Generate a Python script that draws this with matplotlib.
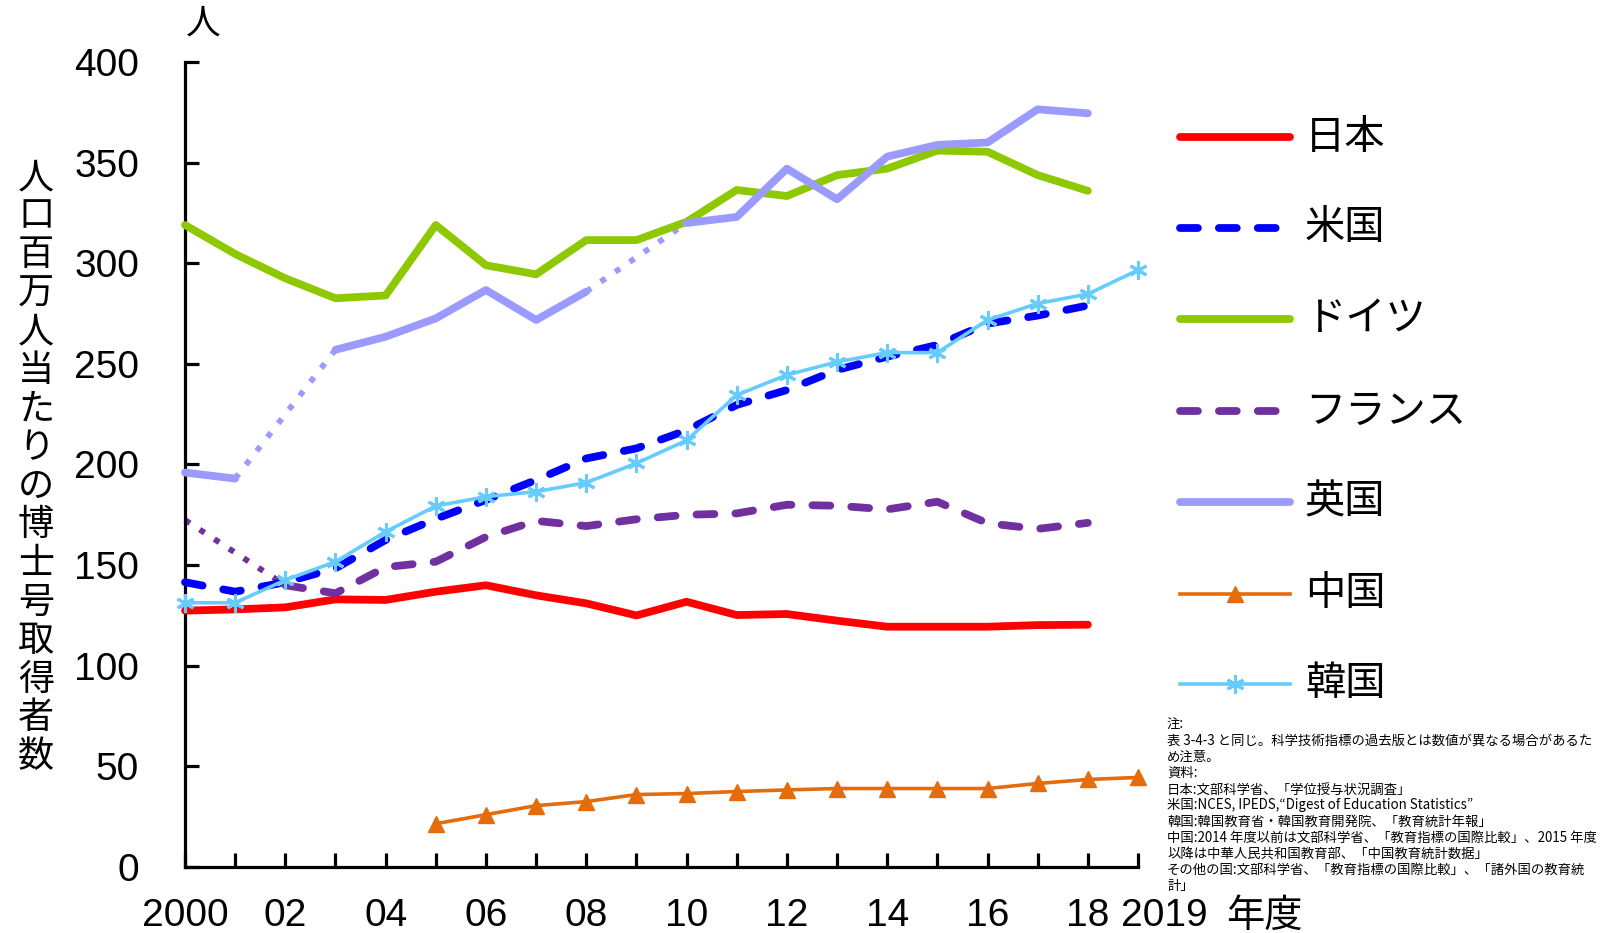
import numpy as np
import matplotlib
matplotlib.use("Agg")
import matplotlib.pyplot as plt
from matplotlib.lines import Line2D

plt.rcParams['font.family'] = ['Liberation Sans', 'Noto Sans CJK JP']

nan = np.nan

# ---- data: doctoral degrees per million population ----
years = list(range(2000, 2020))
years_main = years[:19]            # 2000 .. 2018
years_china = list(range(2005, 2020))

japan = [127.4, 128.0, 129.0, 133.0, 132.7, 136.8, 140.0, 135.0, 131.0, 125.0,
         131.8, 125.2, 125.7, 122.4, 119.4, 119.4, 119.4, 120.2, 120.4]
usa = [141.5, 136.8, 141.5, 148.4, 162.5, 173.0, 182.4, 192.3, 203.0, 208.0,
       217.0, 229.6, 237.0, 247.0, 253.6, 259.4, 270.0, 274.0, 279.0]
germany = [319.0, 304.6, 292.5, 282.6, 284.0, 319.0, 299.0, 294.5, 311.5, 311.5,
           320.6, 336.4, 333.4, 343.8, 347.0, 356.0, 355.4, 343.8, 336.0]
france = [172.4, nan, 140.0, 136.0, 149.0, 151.7, 164.0, 172.0, 169.4, 172.8,
          175.0, 175.7, 180.0, 179.5, 177.7, 181.5, 170.8, 168.0, 171.0]
uk = [196.0, 193.0, nan, 257.0, 263.5, 272.6, 286.7, 271.8, 285.9, nan,
      320.0, 323.0, 347.0, 331.8, 353.0, 358.8, 360.0, 376.5, 374.5]
china = [21.5, 26.0, 30.5, 32.5, 36.0, 36.5, 37.5, 38.3, 39.0, 39.0,
         39.0, 39.0, 41.5, 43.5, 44.5]
korea = [131.3, 131.3, 142.6, 151.7, 166.6, 179.4, 184.0, 186.5, 191.0, 200.6,
         212.0, 234.5, 244.5, 251.0, 255.6, 255.6, 271.8, 280.0, 284.7, 296.6]

series_names = ["日本", "米国", "ドイツ", "フランス", "英国", "中国", "韓国"]

y_ticks = [0, 50, 100, 150, 200, 250, 300, 350, 400]
x_tick_labels = {2000: "2000", 2002: "02", 2004: "04", 2006: "06", 2008: "08",
                 2010: "10", 2012: "12", 2014: "14", 2016: "16", 2018: "18"}
last_year_label = "2019"
year_unit = "年度"
unit_label = "人"
y_title = "人口百万人当たりの博士号取得者数"

notes = [
    "注:",
    "表 3-4-3 と同じ。科学技術指標の過去版とは数値が異なる場合があるた",
    "め注意。",
    "資料:",
    "日本:文部科学省、「学位授与状況調査」",
    "米国:NCES, IPEDS,“Digest of Education Statistics”",
    "韓国:韓国教育省・韓国教育開発院、「教育統計年報」",
    "中国:2014 年度以前は文部科学省、「教育指標の国際比較」、2015 年度",
    "以降は中華人民共和国教育部、「中国教育統計数据」",
    "その他の国:文部科学省、「教育指標の国際比較」、「諸外国の教育統",
    "計」",
]

# ---- styles ----
RED = "#FF0000"
BLUE = "#0000FF"
GREEN = "#8DC800"
PURPLE = "#7030A0"
LAVENDER = "#9B9BFF"
ORANGE = "#E46C0A"
SKY = "#66CCFF"

THICK = 5.6
DASH = (2.3, 2.7)
DOT = (1.0, 2.0)

styles = {
    "日本": dict(color=RED, lw=THICK, solid_capstyle="round", solid_joinstyle="round"),
    "米国": dict(color=BLUE, lw=THICK, dashes=DASH, dash_capstyle="round"),
    "ドイツ": dict(color=GREEN, lw=THICK, solid_capstyle="round", solid_joinstyle="round"),
    "フランス": dict(color=PURPLE, lw=THICK, dashes=DASH, dash_capstyle="round"),
    "英国": dict(color=LAVENDER, lw=THICK, solid_capstyle="round", solid_joinstyle="round"),
    "中国": dict(color=ORANGE, lw=2.6, marker="^", ms=11.5, mec=ORANGE, mfc=ORANGE),
    "韓国": dict(color=SKY, lw=2.6, marker=(6, 2, 0), ms=13, mec=SKY, mew=2.2),
}


def gap_bridges(xs, ys):
    """Segments joining the last valid point before a gap to the first after it."""
    xs = np.asarray(xs, float)
    ys = np.asarray(ys, float)
    valid = np.where(~np.isnan(ys))[0]
    segs = []
    for a, b in zip(valid[:-1], valid[1:]):
        if b - a > 1:
            segs.append(([xs[a], xs[b]], [ys[a], ys[b]]))
    return segs


W, H = 1610, 933
fig = plt.figure(figsize=(W / 100, H / 100), dpi=100)
fig.patch.set_facecolor("white")

x0, x1, y0, y1 = 185, 1138, 867, 62
ax = fig.add_axes([x0 / W, 1 - y0 / H, (x1 - x0) / W, (y0 - y1) / H])
ax.set_xlim(2000, 2019)
ax.set_ylim(0, 400)

# dotted bridges across missing years
for name, ys, col in [("英国", uk, LAVENDER), ("フランス", france, PURPLE)]:
    for sx, sy in gap_bridges(years_main, ys):
        ax.plot(sx, sy, color=col, lw=4.2, dashes=DOT, dash_capstyle="butt",
                clip_on=False, zorder=2)

data = {"日本": (years_main, japan), "米国": (years_main, usa),
        "ドイツ": (years_main, germany), "フランス": (years_main, france),
        "英国": (years_main, uk), "中国": (years_china, china),
        "韓国": (years, korea)}

for i, name in enumerate(series_names):
    xs, ys = data[name]
    ax.plot(xs, ys, clip_on=False, zorder=3 + i, **styles[name])

# axes styling
for side in ("top", "right"):
    ax.spines[side].set_visible(False)
for side in ("left", "bottom"):
    ax.spines[side].set_linewidth(2.3)
    ax.spines[side].set_capstyle("projecting")

ax.set_yticks(y_ticks)
ax.set_yticklabels([str(v) for v in y_ticks])
ax.set_xticks(years)
ax.set_xticklabels([x_tick_labels.get(y, "") for y in years])
ax.tick_params(axis="both", direction="in", length=10, width=2.3, colors="black",
               labelsize=28)
ax.tick_params(axis="y", pad=33)
ax.tick_params(axis="x", pad=22)

# final year label and the fiscal-year unit after it
fig.text(1121 / W, 1 - 912 / H, last_year_label, fontsize=28,
         family=["Liberation Sans"], ha="left", va="center_baseline")
fig.text(1226 / W, 1 - 912 / H, year_unit, fontsize=27.5,
         family=["Noto Sans CJK JP"], ha="left", va="center_baseline")

# unit above the y axis
fig.text(203 / W, 1 - 24 / H, unit_label, fontsize=25,
         family=["Noto Sans CJK JP"], ha="center", va="center")

# vertical y-axis title, one upright character per row
for i, ch in enumerate(y_title):
    fig.text(36 / W, 1 - (178 + 38.6 * i) / H, ch, fontsize=26,
             family=["Noto Sans CJK JP"], ha="center", va="center")

# legend drawn beside the plot
leg_rows = [137, 228, 319, 411, 502, 593.5, 684]
for name, ry in zip(series_names, leg_rows):
    st = dict(styles[name])
    yy = 1 - ry / H
    if "marker" in st:
        marker = st.pop("marker")
        ms = st.pop("ms")
        mec = st.pop("mec")
        mew = st.pop("mew", 1.0)
        mfc = st.pop("mfc", "none")
        fig.add_artist(Line2D([1180 / W, 1290 / W], [yy, yy], transform=fig.transFigure,
                              **st))
        fig.add_artist(Line2D([1235 / W], [yy], transform=fig.transFigure,
                              marker=marker, ms=ms, mec=mec, mew=mew, mfc=mfc,
                              linestyle="none"))
    else:
        fig.add_artist(Line2D([1180 / W, 1290 / W], [yy, yy], transform=fig.transFigure,
                              **st))
    fig.text(1305 / W, yy, name, fontsize=29, family=["Noto Sans CJK JP"],
             ha="left", va="center")

# source notes
for i, line in enumerate(notes):
    fig.text(1167 / W, 1 - (725 + 16.1 * i) / H, line, fontsize=9.6,
             family=["Noto Sans CJK JP"], ha="left", va="center")

fig.savefig("out.png", dpi=100, facecolor="white")
